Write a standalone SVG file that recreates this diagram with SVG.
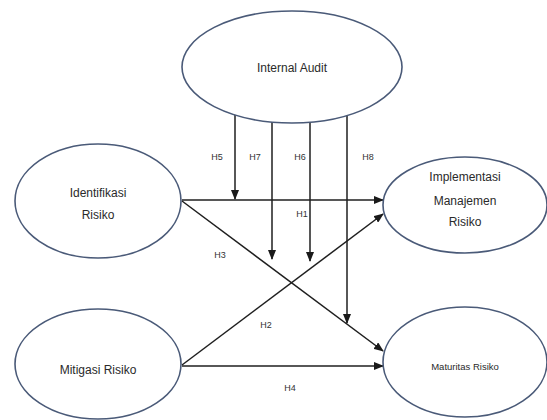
<svg xmlns="http://www.w3.org/2000/svg" width="547" height="420" viewBox="0 0 547 420">
<defs>
<marker id="ah" markerWidth="10" markerHeight="8" refX="9" refY="4" orient="auto" markerUnits="userSpaceOnUse">
<path d="M0,0 L10,4 L0,8 z" fill="#1a1a1a"/>
</marker>
<style>
.node{fill:#fff;stroke:#4a5a78;stroke-width:1.6}
.t{font-family:"Liberation Sans","Open Sans",sans-serif;font-size:12px;fill:#2a2a2a;text-anchor:middle}
.s{font-size:9.5px}
.lbl{font-family:"Liberation Sans","Open Sans",sans-serif;font-size:9px;fill:#333;text-anchor:middle}
.c{stroke:#1f1f1f;stroke-width:1.5;fill:none;marker-end:url(#ah)}
</style>
</defs>
<rect width="547" height="420" fill="#fff"/>
<g id="connectors">
<line class="c" x1="182" y1="200" x2="383" y2="200"/>
<line class="c" x1="182" y1="201" x2="383" y2="351"/>
<line class="c" x1="182" y1="365" x2="383" y2="214"/>
<line class="c" x1="182" y1="366" x2="383" y2="366"/>
<line class="c" x1="235" y1="114" x2="235" y2="199"/>
<line class="c" x1="272" y1="121" x2="272" y2="259"/>
<line class="c" x1="310" y1="121" x2="310" y2="261"/>
<line class="c" x1="347" y1="114" x2="347" y2="323"/>
</g>
<g id="n-internal-audit">
<ellipse class="node" cx="292" cy="67" rx="110" ry="56"/>
<text class="t" x="292" y="72">Internal Audit</text>
</g>
<g id="n-identifikasi">
<ellipse class="node" cx="98" cy="201" rx="83" ry="57"/>
<text class="t" x="98" y="197">Identifikasi</text>
<text class="t" x="98" y="219">Risiko</text>
</g>
<g id="n-implementasi">
<ellipse class="node" cx="465" cy="205" rx="82" ry="48"/>
<text class="t" x="465" y="181">Implementasi</text>
<text class="t" x="465" y="205">Manajemen</text>
<text class="t" x="465" y="226">Risiko</text>
</g>
<g id="n-mitigasi">
<ellipse class="node" cx="98" cy="364" rx="83" ry="55"/>
<text class="t" x="98" y="374">Mitigasi Risiko</text>
</g>
<g id="n-maturitas">
<ellipse class="node" cx="465" cy="362" rx="82" ry="55"/>
<text class="t s" x="465" y="370">Maturitas Risiko</text>
</g>
<g id="labels">
<text class="lbl" x="217" y="160">H5</text>
<text class="lbl" x="255" y="160">H7</text>
<text class="lbl" x="300" y="160">H6</text>
<text class="lbl" x="368" y="160">H8</text>
<text class="lbl" x="302" y="217">H1</text>
<text class="lbl" x="220" y="258">H3</text>
<text class="lbl" x="266" y="328">H2</text>
<text class="lbl" x="290" y="391">H4</text>
</g>
</svg>
